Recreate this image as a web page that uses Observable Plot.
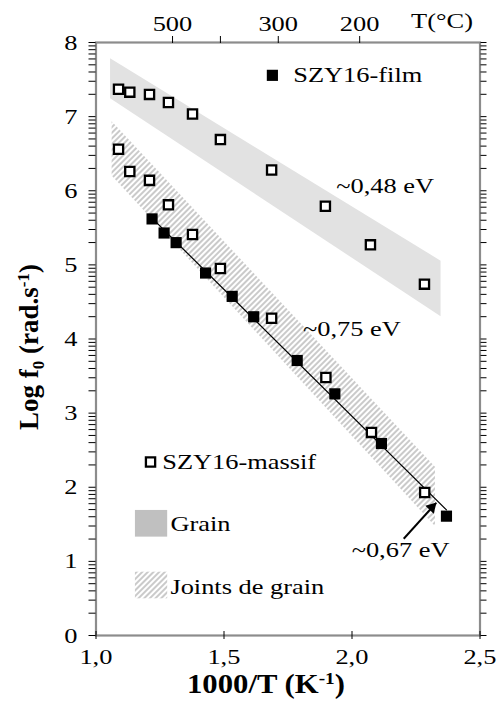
<!DOCTYPE html>
<html>
<head>
<meta charset="utf-8">
<script src="https://cdn.jsdelivr.net/npm/d3@7"></script>
<script src="https://cdn.jsdelivr.net/npm/@observablehq/plot@0.6"></script>
<style>
  html, body { margin: 0; padding: 0; background: #fff; }
  #chart svg { display: block; }
  #chart svg text { font-family: 'Liberation Serif', 'Times New Roman', serif; }
</style>
</head>
<body>
<div id="chart"></div>
<script>
// ---- Data ----
const massifGrainX = [1.088, 1.132, 1.209, 1.283, 1.377, 1.486, 1.686, 1.896, 2.072, 2.283];
const massifGrainY = [7.37, 7.33, 7.30, 7.19, 7.035, 6.69, 6.28, 5.79, 5.27, 4.74];
const massifJointX = [1.088, 1.132, 1.209, 1.283, 1.377, 1.486, 1.686, 1.898, 2.076, 2.284];
const massifJointY = [6.56, 6.26, 6.14, 5.81, 5.41, 4.95, 4.28, 3.48, 2.74, 1.93];
const filmX = [1.219, 1.266, 1.313, 1.428, 1.532, 1.616, 1.786, 1.933, 2.115, 2.369];
const filmY = [5.62, 5.43, 5.30, 4.89, 4.575, 4.30, 3.71, 3.26, 2.59, 1.61];

const grainBandX = [1.057, 2.348];
const grainBandTop = [7.78, 5.05];
const grainBandBottom = [7.24, 4.30];
const jointBandX = [1.063, 2.326];
const jointBandTop = [6.93, 2.27];
const jointBandBottom = [6.20, 1.47];

const xTicks = [1.0, 1.5, 2.0, 2.5];
const xTickLabels = ["1,0", "1,5", "2,0", "2,5"];
const yTicks = [0, 1, 2, 3, 4, 5, 6, 7, 8];
const topTickX = [1.299, 1.486, 1.712, 2.030];
const topTickLabels = ["500", "", "300", "200"];

const annotText = ["~0,48 eV", "~0,75 eV", "~0,67 eV"];
const annotX = [2.13, 2.0, 2.19];
const annotY = [6.07, 4.14, 1.15];
const arrowFrom = [2.202, 1.305];
const arrowTo = [2.329, 1.79];

// ---- Build tables ----
const massif = massifGrainX.map((x, i) => ({x, y: massifGrainY[i]}))
  .concat(massifJointX.map((x, i) => ({x, y: massifJointY[i]})));
const film = filmX.map((x, i) => ({x, y: filmY[i]}));
const grainBand = grainBandX.map((x, i) => ({x, y1: grainBandBottom[i], y2: grainBandTop[i]}));
const jointBand = jointBandX.map((x, i) => ({x, y1: jointBandBottom[i], y2: jointBandTop[i]}));
const annots = annotText.map((t, i) => ({t, x: annotX[i], y: annotY[i]}));
const arrow = [{x1: arrowFrom[0], y1: arrowFrom[1], x2: arrowTo[0], y2: arrowTo[1]}];
const yMinor = [];
for (let n = 0; n < 8; n++) for (let k = 2; k <= 9; k++) yMinor.push(n + Math.log10(k));

const font = "'Liberation Serif', 'Times New Roman', serif";
const FS = 22;

const plot = Plot.plot({
  width: 498,
  height: 708,
  marginLeft: 95.5,
  marginRight: 18.5,
  marginTop: 42,
  marginBottom: 73,
  style: {fontSize: FS + "px", color: "#000", background: "#fff"},
  x: {domain: [1, 2.5]},
  y: {domain: [0, 8]},
  marks: [
    Plot.areaY(grainBand, {x: "x", y1: "y1", y2: "y2", fill: "#e2e2e2"}),
    Plot.areaY(jointBand, {x: "x", y1: "y1", y2: "y2", fill: "url(#hatch)"}),
    Plot.linearRegressionY(film, {x: "x", y: "y", ci: 0, stroke: "#000", strokeWidth: 1.2}),
    Plot.dot(massif, {x: "x", y: "y", symbol: "square", r: 5.2, fill: "#fff", stroke: "#000", strokeWidth: 2.3}),
    Plot.dot(film, {x: "x", y: "y", symbol: "square", r: 6.3, fill: "#000", stroke: "none"}),
    // legend
    Plot.dot([{x: 1.689, y: 7.557}], {x: "x", y: "y", symbol: "square", r: 6.3, fill: "#000"}),
    Plot.text([{x: 1.771, y: 7.557, t: "SZY16-film"}], {x: "x", y: "y", text: "t", textAnchor: "start", fontSize: FS}),
    Plot.dot([{x: 1.213, y: 2.34}], {x: "x", y: "y", symbol: "square", r: 5.2, fill: "#fff", stroke: "#000", strokeWidth: 2.3}),
    Plot.text([{x: 1.259, y: 2.34, t: "SZY16-massif"}], {x: "x", y: "y", text: "t", textAnchor: "start", fontSize: FS}),
    Plot.rect([{x1: 1.154, x2: 1.280, y1: 1.327, y2: 1.687}], {x1: "x1", x2: "x2", y1: "y1", y2: "y2", fill: "#c0c0c0"}),
    Plot.text([{x: 1.291, y: 1.51, t: "Grain"}], {x: "x", y: "y", text: "t", textAnchor: "start", fontSize: FS}),
    Plot.rect([{x1: 1.154, x2: 1.280, y1: 0.495, y2: 0.854}], {x1: "x1", x2: "x2", y1: "y1", y2: "y2", fill: "url(#hatch)"}),
    Plot.text([{x: 1.291, y: 0.65, t: "Joints de grain"}], {x: "x", y: "y", text: "t", textAnchor: "start", fontSize: FS}),
    // annotations
    Plot.text(annots, {x: "x", y: "y", text: "t", fontSize: FS}),
    Plot.link(arrow, {x1: "x1", y1: "y1", x2: "x2", y2: "y2", stroke: "#000", strokeWidth: 2}),
    Plot.dot(arrow, {x: "x2", y: "y2", symbol: "triangle", r: 4.3, rotate: 44, dx: -4.4, dy: 4.5, fill: "#000", stroke: "none"}),
    // frame
    Plot.frame({stroke: "#8c8c8c", strokeWidth: 2.2}),
    // axes
    Plot.axisX({anchor: "bottom", ticks: xTicks, tickFormat: (d, i) => xTickLabels[i], tickSize: 4, tickPadding: 9, label: null, fontSize: FS}),
    Plot.axisX({anchor: "bottom", ticks: xTicks, tickFormat: () => "", tickSize: -4, label: null}),
    Plot.axisX({anchor: "top", ticks: topTickX, tickFormat: (d, i) => topTickLabels[i], tickSize: 7, tickPadding: 5, label: null, fontSize: FS}),
    Plot.axisY({anchor: "left", ticks: yTicks, tickFormat: d => String(d), tickSize: 7, tickPadding: 16, label: null, fontSize: FS}),
    Plot.axisY({anchor: "left", ticks: yMinor, tickFormat: () => "", tickSize: 7, label: null}),
    Plot.axisY({anchor: "right", ticks: yTicks.concat(yMinor), tickFormat: () => "", tickSize: 6, label: null}),
    Plot.text([{x: 2.352, y: 8, t: "T(°C)"}], {x: "x", y: "y", text: "t", dy: -22, fontSize: FS})
  ]
});

// hatch pattern
const svg = d3.select(plot);
const defs = svg.insert("defs", ":first-child");
const pat = defs.append("pattern")
  .attr("id", "hatch")
  .attr("patternUnits", "userSpaceOnUse")
  .attr("width", 4).attr("height", 4)
  .attr("patternTransform", "rotate(45)");
pat.append("line").attr("x1", 1).attr("y1", 0).attr("x2", 1).attr("y2", 4)
  .attr("stroke", "#c4c4c4").attr("stroke-width", 1.8);

document.getElementById("chart").appendChild(plot);

// the reference's text is horizontally widened; mimic it by scaling about each text's anchor
const SX = 1.2;
const svgRect = plot.getBoundingClientRect();
svg.selectAll("text").each(function () {
  const r = this.getBoundingClientRect();
  if (r.width <= 0) return;
  const anchor = getComputedStyle(this).textAnchor || this.getAttribute("text-anchor") ||
    (this.parentNode.getAttribute && this.parentNode.getAttribute("text-anchor")) || "start";
  const left = r.left - svgRect.left;
  const ax = anchor === "end" ? left + r.width : anchor === "middle" ? left + r.width / 2 : left;
  const g = document.createElementNS("http://www.w3.org/2000/svg", "g");
  g.setAttribute("transform", `translate(${ax},0) scale(${SX},1) translate(${-ax},0)`);
  this.parentNode.insertBefore(g, this);
  g.appendChild(this);
});

// axis titles with sub/superscripts
const xt = svg.append("text")
  .attr("x", 266).attr("y", 693)
  .attr("text-anchor", "middle")
  .attr("textLength", 158).attr("lengthAdjust", "spacingAndGlyphs")
  .style("font-family", font).style("font-weight", "bold").style("font-size", "27px");
xt.append("tspan").text("1000/T (K");
xt.append("tspan").attr("dy", -9).style("font-size", "17px").text("-1");
xt.append("tspan").attr("dy", 9).text(")");

const yt = svg.append("text")
  .attr("transform", "translate(38,347) rotate(-90)")
  .attr("text-anchor", "middle")
  .style("font-family", font).style("font-weight", "bold").style("font-size", "27px");
yt.append("tspan").text("Log f");
yt.append("tspan").attr("dy", 6).style("font-size", "17px").text("0");
yt.append("tspan").attr("dy", -6).text(" (rad.s");
yt.append("tspan").attr("dy", -9).style("font-size", "17px").text("-1");
yt.append("tspan").attr("dy", 9).text(")");
</script>
</body>
</html>
